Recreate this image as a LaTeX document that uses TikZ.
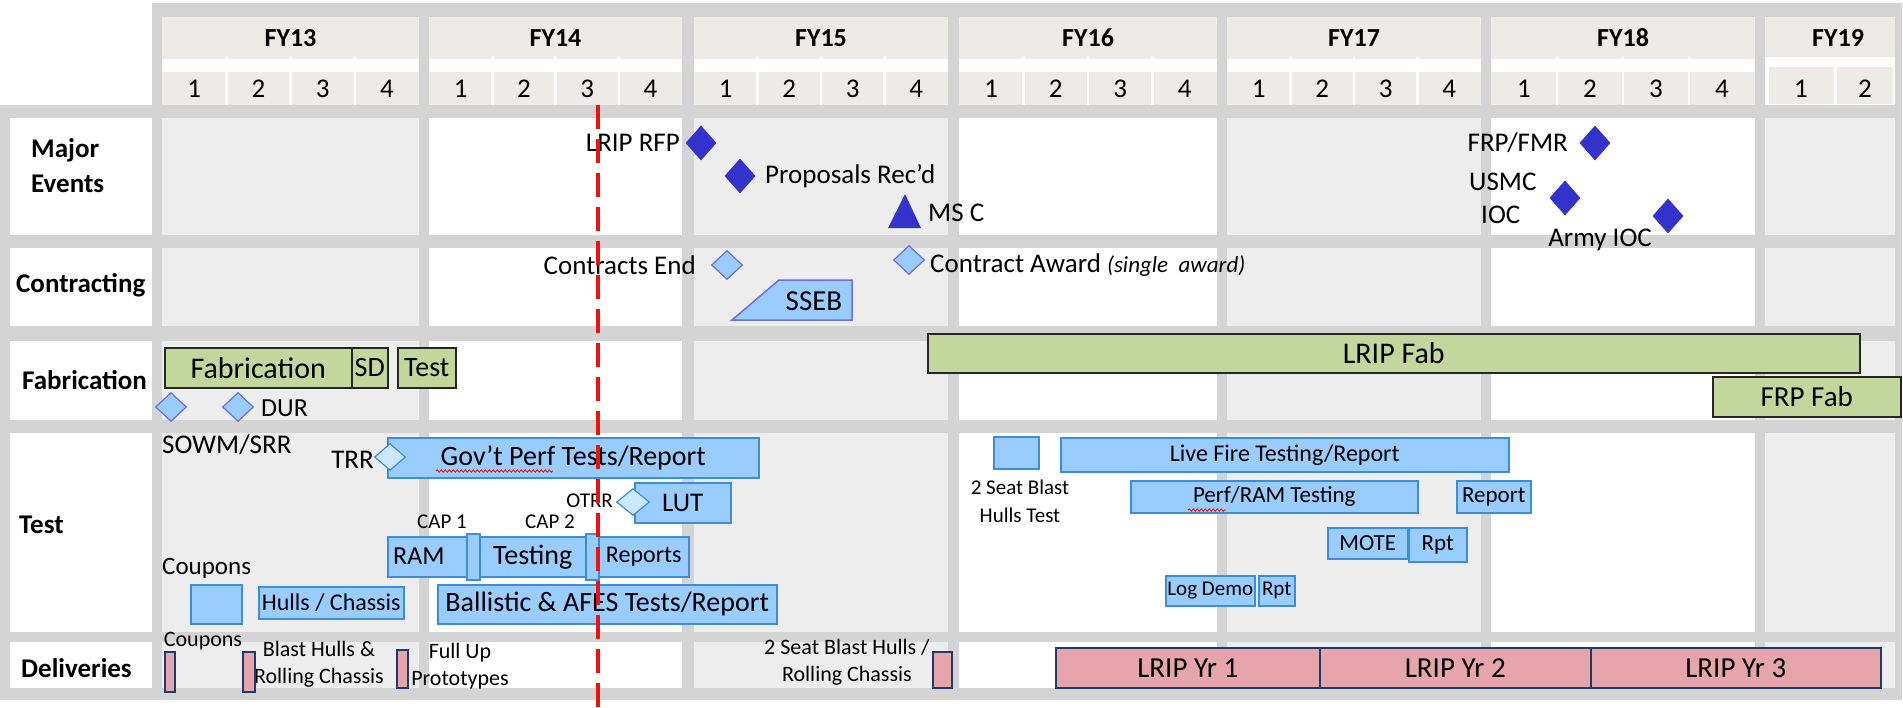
\documentclass[tikz,border=0pt]{standalone}
\usepackage{fontspec}
\setmainfont{Carlito}
\usetikzlibrary{shapes.geometric,decorations.pathmorphing}
\definecolor{framegray}{HTML}{D4D4D4}
\definecolor{hdrcol}{HTML}{EDEBE7}
\definecolor{cellgray}{HTML}{EDEDED}
\definecolor{evblue}{HTML}{3333CC}
\definecolor{barblue}{HTML}{99CCFF}
\definecolor{barline}{HTML}{3C8DDE}
\definecolor{lightdia}{HTML}{CCE8FF}
\definecolor{olive}{HTML}{C3D69B}
\definecolor{pinkbar}{HTML}{E6A4AB}
\definecolor{pinkline}{HTML}{1F3A6E}
\definecolor{cdline}{HTML}{6A6EE0}
\definecolor{redline}{HTML}{EE1111}
\newcommand\fs[2]{\fontsize{#1}{#2}\selectfont}
% name, x1, y1, x2, y2, style, text
\newcommand\gbox[7]{\node[#6, anchor=north west, minimum width={(#4)-(#2)}, minimum height={(#5)-(#3)}] (#1) at (#2,#3) {#7};}
\begin{document}
\begin{tikzpicture}[x=1pt,y=-1pt,
  lab/.style={inner sep=0pt, font=\fs{27}{27}, text=black},
  sml/.style={inner sep=0pt, font=\fs{22}{27}, text=black, align=center},
  rowlab/.style={inner sep=0pt, font=\bfseries\fs{27}{35}, anchor=west, align=left},
  bluebar/.style={inner sep=0pt, fill=barblue, draw=barline, line width=1.5pt, font=\fs{24}{24}},
  olivebar/.style={inner sep=0pt, fill=olive, draw=black!85, line width=1.5pt, font=\fs{30}{30}},
  pinkb/.style={inner sep=0pt, fill=pinkbar, draw=pinkline, line width=1.5pt, font=\fs{29}{29}},
  evdia/.style={diamond, fill=evblue, inner sep=0pt, minimum width=31, minimum height=35},
  cdia/.style={diamond, fill=barblue, draw=cdline, line width=1.2pt, inner sep=0pt, minimum width=31, minimum height=29},
  tdia/.style={diamond, fill=lightdia, draw=barline, line width=1.2pt, inner sep=0pt, minimum width=31, minimum height=27},
  squig/.style={red, line width=0.8pt, decorate, decoration={snake, amplitude=1.2pt, segment length=4pt}}
]
\useasboundingbox (0,0) rectangle (1903,707);
\fill[white] (0,0) rectangle (1903,707);
% frame
\fill[framegray] (152,3) -- (1902,3) -- (1902,700) -- (0,700) -- (0,105) -- (152,105) -- cycle;
% header
\foreach \a/\b/\y/\n/\cx in {162/419/13/4/290.5, 429/682/14/4/555.5, 694/948/15/4/821, 959/1217/16/4/1088, 1227/1481/17/4/1354, 1491/1755/18/4/1623}{
  \fill[hdrcol] (\a,17) rectangle (\b,59);
  \fill[white] (\a,59) rectangle (\b,72);
  \fill[hdrcol] (\a,72) rectangle (\b,105);
  \node[inner sep=0pt, font=\bfseries\fs{26}{26}] (fy\y) at (\cx,38) {FY\y};
  \foreach \q in {1,...,\n}{
    \pgfmathsetmacro\qa{\a+(\q-1)*(\b-\a)/\n}
    \pgfmathsetmacro\qb{\a+\q*(\b-\a)/\n}
    \node[lab] (q\y-\q) at ({(\qa+\qb)/2},89) {\q};
    \ifnum\q>1 \draw[white,line width=2.5pt] (\qa,57) -- (\qa,105); \fi
  }
}
% FY19 (half year)
\fill[hdrcol] (1765,17) rectangle (1895,57);
\fill[white] (1765,57) rectangle (1895,105);
\fill[hdrcol] (1769,67) rectangle (1834,104);
\fill[hdrcol] (1837,67) rectangle (1893,104);
\node[inner sep=0pt, font=\bfseries\fs{26}{26}] (fy19) at (1838,38) {FY19};
\node[lab] (q19-1) at (1801,89) {1};
\node[lab] (q19-2) at (1865,89) {2};
% body cells
\foreach \t/\bt in {118/235,248/326,341/420,433/632,642/688}{
  \fill[white] (10,\t) rectangle (152,\bt);
  \foreach \a/\b/\c in {162/419/cellgray, 429/682/white, 694/948/cellgray, 959/1217/white, 1227/1481/cellgray, 1491/1755/white, 1765/1895/cellgray}{
    \fill[color=\c] (\a,\t) rectangle (\b,\bt);
  }
}
% row labels
\node[rowlab] (rmaj) at (31,166) {Major\\Events};
\node[rowlab] (rcon) at (16,285) {Contracting};
\node[rowlab] (rfab) at (22,380) {Fabrication};
\node[rowlab] (rtst) at (19,525) {Test};
\node[rowlab] (rdel) at (21,668) {Deliveries};

% Major events
\node[evdia] (lrfp) at (701,143) {};
\node[lab, anchor=east] (lrfpt) at (680,143) {LRIP RFP};
\node[evdia] (prop) at (740,176) {};
\node[lab, anchor=west] (propt) at (765,176) {Proposals Rec’d};
\fill[evblue] (888,228) -- (905,194) -- (921,228) -- cycle;
\node[lab, anchor=west] (msct) at (928,213) {MS C};
\node[evdia] (frp) at (1595,143) {};
\node[lab, anchor=east] (frpt) at (1568,143) {FRP/FMR};
\node[evdia] (usmc) at (1565,198) {};
\node[lab, anchor=west] (usmct) at (1469,182) {USMC};
\node[lab, anchor=west] (ioct) at (1481,215) {IOC};
\node[evdia] (army) at (1668,216) {};
\node[lab] (armyt) at (1600,240) {Army IOC};

% Contracting
\node[cdia] (cend) at (727,265) {};
\node[lab, anchor=east] (cendt) at (696,265) {Contracts End};
\node[cdia] (caw) at (909,260) {};
\node[lab, anchor=west] (cawt) at (930,265) {Contract Award {\itshape\fs{23}{23}(single\ \ award)}};
\filldraw[fill=barblue, draw=cdline, line width=1.5pt] (732,320) -- (779,280) -- (852,280) -- (852,320) -- cycle;
\node[inner sep=0pt, font=\fs{29}{29}] (sseb) at (814,301) {SSEB};

% Fabrication
\gbox{fab}{164}{347}{351}{387}{olivebar}{Fabrication}
\gbox{sd}{351}{347}{387}{387}{olivebar, font=\fs{28}{28}}{SD}
\gbox{ftest}{397}{347}{455}{387}{olivebar, font=\fs{28}{28}}{Test}
\gbox{lripfab}{927}{333}{1859}{372}{olivebar}{LRIP Fab}
\gbox{frpfab}{1712}{376}{1900}{416}{olivebar, font=\fs{29}{29}}{FRP Fab}
\node[cdia] (sowm) at (171,407) {};
\node[cdia] (dur) at (238,407) {};
\node[lab, anchor=west, font=\fs{26}{26}] (durt) at (261,408) {DUR};
\node[lab, anchor=west] (sowmt) at (162,445) {SOWM/SRR};

% Test
\gbox{gov}{387}{437}{758}{477}{bluebar, font=\fs{28}{28}}{Gov’t Perf Tests/Report}
\node[tdia] (trr) at (390,457) {};
\node[lab, anchor=east] (trrt) at (374,460) {TRR};
\draw[squig] (436,471) -- (553,471);
\gbox{lut}{634}{482}{730}{522}{bluebar, font=\fs{27}{27}}{LUT}
\node[tdia, minimum width=33] (otrr) at (633,502) {};
\node[lab, anchor=east, font=\fs{21}{21}] (otrrt) at (613,501) {OTRR};
\node[lab, font=\fs{21}{21}] (cap1) at (442,522) {CAP 1};
\node[lab, font=\fs{21}{21}] (cap2) at (550,522) {CAP 2};
\gbox{ram}{387}{536}{466}{576}{bluebar}{}
\node[lab, anchor=west, font=\fs{26}{26}] (ramt) at (393,556) {RAM};
\gbox{testing}{479}{536}{585}{576}{bluebar, font=\fs{28}{28}}{Testing}
\gbox{reports}{598}{536}{688}{576}{bluebar}{Reports}
\gbox{capa}{466}{533}{479}{579}{bluebar}{}
\gbox{capb}{585}{533}{598}{579}{bluebar}{}
\node[lab, anchor=west, font=\fs{25}{25}] (coupt) at (162,568) {Coupons};
\gbox{coupsq}{190}{584}{241}{623}{bluebar}{}
\gbox{hulls}{258}{586}{403}{618}{bluebar}{Hulls / Chassis}
\gbox{ball}{437}{584}{776}{623}{bluebar, font=\fs{28}{28}}{Ballistic \& AFES Tests/Report}
\gbox{blast}{993}{436}{1038}{468}{bluebar}{}
\node[sml, font=\fs{21}{28}] (blastt) at (1020,501) {2 Seat Blast\\Hulls Test};
\gbox{live}{1060}{437}{1508}{471}{bluebar}{Live Fire Testing/Report}
\gbox{perf}{1130}{480}{1417}{512}{bluebar, font=\fs{23}{23}}{Perf/RAM Testing}
\draw[squig] (1188,510) -- (1226,510);
\gbox{rep}{1456}{480}{1530}{512}{bluebar, font=\fs{23}{23}}{Report}
\gbox{mote}{1327}{527}{1407}{558}{bluebar, font=\fs{23}{23}}{MOTE}
\gbox{rpta}{1408}{527}{1466}{561}{bluebar, font=\fs{23}{23}}{Rpt}
\gbox{logd}{1165}{575}{1254}{605}{bluebar, font=\fs{21}{21}}{Log Demo}
\gbox{rptb}{1258}{575}{1294}{605}{bluebar, font=\fs{21}{21}}{Rpt}

% Deliveries
\node[sml] (dcoup) at (203,641) {Coupons};
\gbox{pa}{164}{651}{174}{691}{pinkb}{}
\node[sml] (dblast) at (319,664) {Blast Hulls \&\\Rolling Chassis};
\gbox{pb}{242}{651}{254}{691}{pinkb}{}
\gbox{pc}{396}{649}{407}{687}{pinkb}{}
\node[sml] (dfull) at (460,666) {Full Up\\Prototypes};
\node[sml] (dseat) at (847,662) {2 Seat Blast Hulls /\\Rolling Chassis};
\gbox{pd}{932}{651}{951}{687}{pinkb}{}
\gbox{yra}{1055}{647}{1319}{687}{pinkb}{LRIP Yr 1}
\gbox{yrb}{1319}{647}{1590}{687}{pinkb}{LRIP Yr 2}
\gbox{yrc}{1590}{647}{1880}{687}{pinkb}{LRIP Yr 3}

% today line
\coordinate (nowtop) at (598,105);
\coordinate (nowbot) at (598,707);
\draw[redline, line width=4.5pt, dash pattern=on 24pt off 10pt] (nowtop) -- (nowbot);
\end{tikzpicture}
\end{document}
